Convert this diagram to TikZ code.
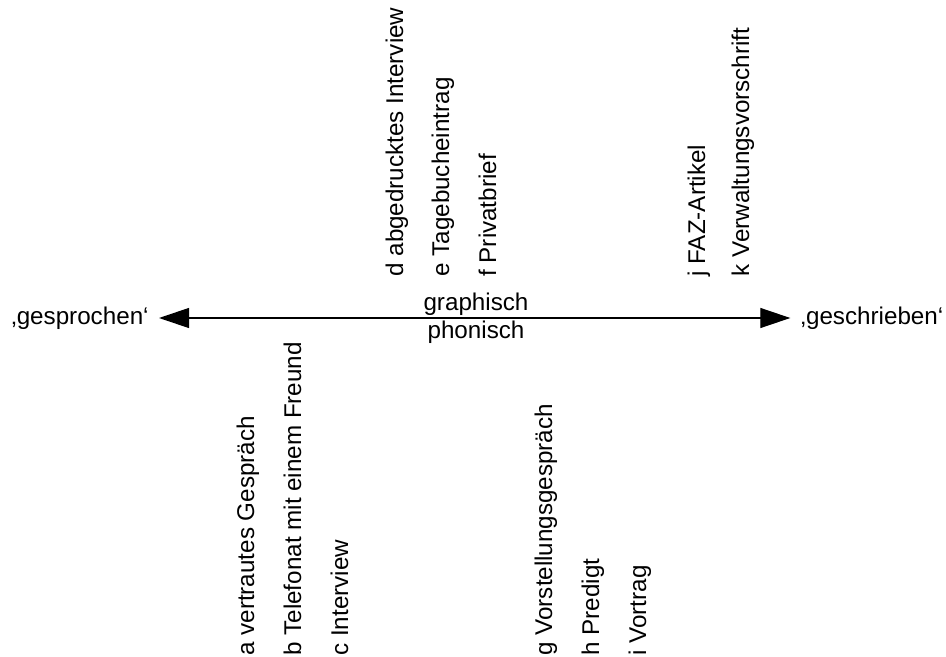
\documentclass[tikz,border=0pt]{standalone}
\usepackage{fontspec}
\setmainfont{Liberation Sans}
\usetikzlibrary{arrows.meta}
\tikzset{%
  >={Triangle[width=10pt,length=15pt]},
  % Specifications for style of nodes:
         base/.style = {font=\fontsize{12.1pt}{14.5pt}\selectfont},
         pole/.style = {base, inner xsep=5pt},
     axisText/.style = {base, inner sep=0pt, anchor=base},
     textType/.style = {base, inner sep=0pt, rotate=90,
                        anchor=base west},
                       }
\begin{document}
\begin{tikzpicture}[x=0.5pt, y=-0.5pt]
  \useasboundingbox (0,0) rectangle (946,657);
  % Specification of nodes (position, etc.)
  \node (Gesprochen)  [pole] at (80,318)  {‚gesprochen‘};
  \node (Geschrieben) [pole] at (872,318) {‚geschrieben‘};
  \node (Graphisch)   [axisText] at (476,310) {graphisch};
  \node (Phonisch)    [axisText] at (476,338) {phonisch};

  % text types above the line
  \node (AbgedrInterview)    [textType] at (403,277) {d abgedrucktes Interview};
  \node (Tagebucheintrag)    [textType] at (449,277) {e Tagebucheintrag};
  \node (Privatbrief)        [textType] at (496,277) {f Privatbrief};
  \node (FAZArtikel)         [textType] at (705,277) {j FAZ-Artikel};
  \node (Verwaltungsvorschr) [textType] at (749,277) {k Verwaltungsvorschrift};

  % text types below the line
  \node (VertrautesGespraech) [textType] at (254,656) {a vertrautes Gespräch};
  \node (Telefonat)           [textType] at (301,656) {b Telefonat mit einem Freund};
  \node (Interview)           [textType] at (348,656) {c Interview};
  \node (Vorstellung)         [textType] at (552,656) {g Vorstellungsgespräch};
  \node (Predigt)             [textType] at (599,656) {h Predigt};
  \node (Vortrag)             [textType] at (646,656) {i Vortrag};

  % Specification of the line between the two poles
  \draw[<->, line width=0.6pt] (Gesprochen) -- (Geschrieben);
\end{tikzpicture}
\end{document}
